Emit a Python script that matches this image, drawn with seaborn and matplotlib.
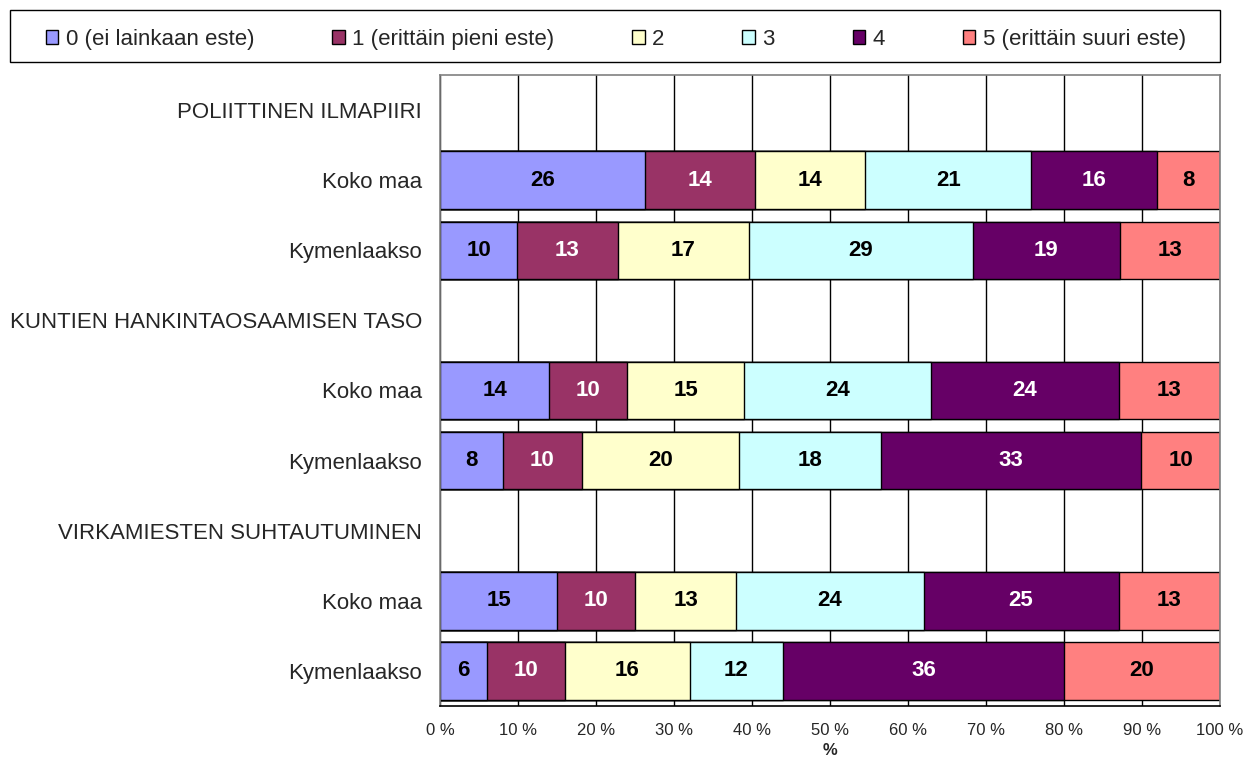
import numpy as np
import pandas as pd
import seaborn as sns
import matplotlib.pyplot as plt
from matplotlib.patches import Patch, Rectangle

# data (percent of answers, 0 = no obstacle ... 5 = very big obstacle)
row_labels = ["POLIITTINEN ILMAPIIRI", "Koko maa", "Kymenlaakso",
              "KUNTIEN HANKINTAOSAAMISEN TASO", "Koko maa", "Kymenlaakso",
              "VIRKAMIESTEN SUHTAUTUMINEN", "Koko maa", "Kymenlaakso"]
series_names = ["0 (ei lainkaan este)", "1 (erittäin pieni este)", "2", "3", "4",
                "5 (erittäin suuri este)"]
pol_koko = [26, 14, 14, 21, 16, 8]
pol_kymen = [10, 13, 17, 29, 19, 13]
kunt_koko = [14, 10, 15, 24, 24, 13]
kunt_kymen = [8, 10, 20, 18, 33, 10]
virk_koko = [15, 10, 13, 24, 25, 13]
virk_kymen = [6, 10, 16, 12, 36, 20]
colors = ["#9999FF", "#993366", "#FFFFCC", "#CCFFFF", "#660066", "#FF8080"]
text_colors = ["black", "white", "black", "black", "white", "black"]

rows = [None, pol_koko, pol_kymen, None, kunt_koko, kunt_kymen, None, virk_koko, virk_kymen]
keys = [f"r{i}" for i in range(len(rows))]

# build cumulative (100 % stacked) table
recs = []
for k, vals in zip(keys, rows):
    rec = {"row": k}
    if vals is None:
        for j in range(6):
            rec[f"cum{j}"] = np.nan
    else:
        v = np.array(vals, float)
        cum = np.cumsum(v / v.sum() * 100)
        for j in range(6):
            rec[f"cum{j}"] = cum[j]
    recs.append(rec)
df = pd.DataFrame(recs)

sns.set_style("white")
plt.rcParams["font.family"] = ["Liberation Sans", "DejaVu Sans"]

fig = plt.figure(figsize=(12.53, 7.57), dpi=100)
ax = fig.add_axes([440 / 1253, 1 - 706 / 757, 780 / 1253, 631 / 757])

for j in range(5, -1, -1):
    sns.barplot(data=df, x=f"cum{j}", y="row", order=keys, orient="h",
                color=colors[j], saturation=1, width=0.82,
                edgecolor="black", linewidth=1, ax=ax, zorder=2)

# value labels in the middle of each segment
for i, vals in enumerate(rows):
    if vals is None:
        continue
    v = np.array(vals, float)
    cum = np.cumsum(v / v.sum() * 100)
    start = np.concatenate([[0], cum[:-1]])
    for j in range(6):
        ax.text((start[j] + cum[j]) / 2, i, str(vals[j]), ha="center", va="center",
                fontsize=16, fontweight="bold", color=text_colors[j], zorder=3)

ax.set_xlim(0, 100)
ax.set_ylim(len(keys) - 0.5, -0.5)
ax.set_xticks(range(0, 101, 10))
ax.set_xticklabels([f"{t} %" for t in range(0, 101, 10)], fontsize=12)
ax.set_yticks(range(len(keys)))
ax.set_yticklabels(row_labels, fontsize=16)
ax.tick_params(axis="y", length=0, pad=13)
ax.tick_params(axis="x", direction="out", length=3, width=1, color="black", pad=9)
ax.xaxis.grid(True, color="black", linewidth=1)
ax.set_axisbelow(True)
ax.set_xlabel("%", fontsize=12, fontweight="bold", labelpad=4)
ax.set_ylabel("")
for s in ["top", "right", "left"]:
    ax.spines[s].set_color("#808080")
    ax.spines[s].set_linewidth(1.2)
ax.spines["bottom"].set_color("black")
ax.spines["bottom"].set_linewidth(1.2)

# legend box frame and entries
fig.patches.append(Rectangle((10 / 1253, 1 - 62 / 757), 1210 / 1253, 52 / 757,
                             transform=fig.transFigure, facecolor="white",
                             edgecolor="black", linewidth=1))
handles = [Patch(facecolor=c, edgecolor="black", linewidth=1) for c in colors]
leg = fig.legend(handles, series_names, loc="lower left", ncol=6, mode="expand",
                 bbox_to_anchor=(34 / 1253, 1 - 62 / 757, 1164 / 1253, 52 / 757),
                 fontsize=16, frameon=False,
                 handlelength=0.55, handleheight=0.55, handletextpad=0.35,
                 borderaxespad=0, borderpad=0.55)

fig.savefig("out.png", dpi=100)
